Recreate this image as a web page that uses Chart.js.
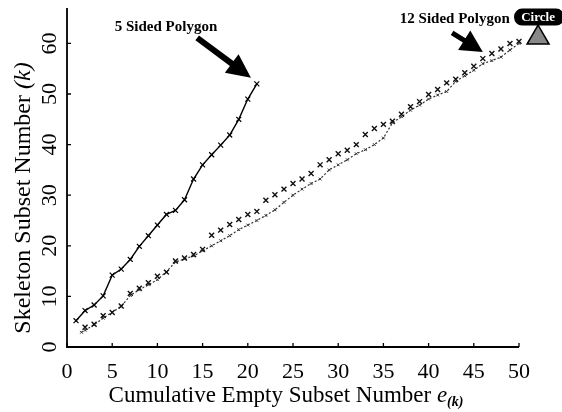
<!DOCTYPE html>
<html><head><meta charset="utf-8">
<script src="https://cdn.jsdelivr.net/npm/chart.js@4/dist/chart.umd.min.js"></script>
<style>html,body{margin:0;padding:0;background:#fff;}canvas{display:block;}</style>
</head><body>
<canvas id="c" width="562" height="412"></canvas>
<script>
// ---- data ----
const xTickValues = [0,5,10,15,20,25,30,35,40,45,50];
const yTickValues = [0,10,20,30,40,50,60];

const pentagonE = [1,2,3,4,5,6,7,8,9,10,11,12,13,14,15,16,17,18,19,20,21];
const pentagonK = [5.2,7.2,8.3,10.1,14.2,15.4,17.3,19.9,22,24.1,26.2,27,29.1,33.2,36,38,39.9,41.9,45,49,52];

const dodecagonE = [2,3,4,5,6,7,8,9,10,11,12,13,14,15,16,17,18,19,20,21,22,23,24,25,26,27,28,29,30,31,32,33,34,35,36,37,38,39,40,41,42,43,44,45,46,47,48,49,50];
const dodecagonK = [3.9,4.5,6.2,6.8,8.1,10.6,11.6,12.7,14,14.8,17,17.6,18.3,19.3,22.1,23.1,24.2,25.2,26.2,26.8,29,30.1,31.2,32.3,33.2,34.3,36,37,38.2,38.9,40,42,43.2,44,44.6,46,47.5,48.5,49.9,50.9,52.2,52.9,54.2,55.5,57,58,58.9,60,60.4];

const circleE = [1.6,2,3,4,5,6,7,8,9,10,11,12,13,14,15,16,17,18,19,20,21,22,23,24,25,26,27,28,29,30,31,32,33,34,35,36,37,38,39,40,41,42,43,44,45,46,47,48,49,50];
const circleK = [2.9,3.3,4.4,5.7,6.9,8,10.2,11.3,12.3,13.3,14.9,16.8,17.4,18,19,20,21,22,23.2,24.1,25,26,27.1,28.6,30,31.2,32.3,33.2,35,36,37,38.2,39,40,41.3,44.3,45.5,46.8,47.8,49,49.8,50.5,52.5,53.6,54.7,56,56.6,57.3,58.7,60];

const xTitle = 'Cumulative Empty Subset Number ';
const xTitleVar = 'e';
const xTitleSub = '(k)';
const yTitle = 'Skeleton Subset Number ';
const yTitleVar = '(k)';
const label5 = '5 Sided Polygon';
const label12 = '12 Sided Polygon';
const labelCircle = 'Circle';

const toPts = (xs, ys) => xs.map((x, i) => ({x, y: ys[i]}));

const SERIF = '"Liberation Serif", "DejaVu Serif", serif';

function drawRuns(ctx, runs, cx, cy, angle) {
  ctx.save();
  ctx.translate(cx, cy);
  ctx.rotate(angle);
  ctx.textBaseline = 'alphabetic';
  ctx.textAlign = 'left';
  let total = 0;
  runs.forEach(r => { ctx.font = r.font; r.w = ctx.measureText(r.text).width; total += r.w; });
  let x = -total / 2;
  runs.forEach(r => { ctx.font = r.font; ctx.fillText(r.text, x, r.dy || 0); x += r.w; });
  ctx.restore();
}

function arrow(ctx, tx, ty, hx, hy, shaft, headLen, headW) {
  const dx = hx - tx, dy = hy - ty, L = Math.hypot(dx, dy);
  const ux = dx / L, uy = dy / L, nx = -uy, ny = ux;
  const bx = hx - ux * headLen, by = hy - uy * headLen;
  ctx.beginPath();
  ctx.moveTo(tx + nx * shaft / 2, ty + ny * shaft / 2);
  ctx.lineTo(bx + nx * shaft / 2, by + ny * shaft / 2);
  ctx.lineTo(bx + nx * headW / 2, by + ny * headW / 2);
  ctx.lineTo(hx, hy);
  ctx.lineTo(bx - nx * headW / 2, by - ny * headW / 2);
  ctx.lineTo(bx - nx * shaft / 2, by - ny * shaft / 2);
  ctx.lineTo(tx - nx * shaft / 2, ty - ny * shaft / 2);
  ctx.closePath();
  ctx.fill();
}

const decor = {
  id: 'decor',
  afterDraw(chart) {
    const ctx = chart.ctx, xs = chart.scales.x, ys = chart.scales.y, ca = chart.chartArea;
    const X = v => xs.getPixelForValue(v), Y = v => ys.getPixelForValue(v);
    ctx.save();
    ctx.fillStyle = '#000';
    ctx.strokeStyle = '#000';
    // axes
    ctx.lineWidth = 1.8;
    ctx.beginPath();
    ctx.moveTo(ca.left, ca.top);
    ctx.lineTo(ca.left, ca.bottom);
    ctx.lineTo(ca.right, ca.bottom);
    ctx.stroke();
    // inward ticks
    ctx.lineWidth = 1.3;
    ctx.beginPath();
    xTickValues.forEach(v => { const p = X(v); ctx.moveTo(p, ca.bottom); ctx.lineTo(p, ca.bottom - 4); });
    yTickValues.forEach(v => { const p = Y(v); ctx.moveTo(ca.left, p); ctx.lineTo(ca.left + 4, p); });
    ctx.stroke();
    // x tick labels
    ctx.font = '22px ' + SERIF;
    ctx.textAlign = 'center';
    ctx.textBaseline = 'alphabetic';
    xTickValues.forEach(v => ctx.fillText(String(v), X(v), ca.bottom + 31));
    // y tick labels (rotated)
    yTickValues.forEach(v => {
      ctx.save();
      ctx.translate(ca.left - 11, Y(v));
      ctx.rotate(-Math.PI / 2);
      ctx.textAlign = 'center';
      ctx.textBaseline = 'alphabetic';
      ctx.font = '22px ' + SERIF;
      ctx.fillText(String(v), 0, 0);
      ctx.restore();
    });
    // x title
    drawRuns(ctx, [
      {text: xTitle, font: '23px ' + SERIF},
      {text: xTitleVar, font: 'italic 23px ' + SERIF},
      {text: xTitleSub, font: 'italic bold 14px ' + SERIF, dy: 4}
    ], 286, ca.bottom + 55, 0);
    // y title
    drawRuns(ctx, [
      {text: yTitle, font: '24px ' + SERIF},
      {text: yTitleVar, font: 'italic 24px ' + SERIF}
    ], 30, 198, -Math.PI / 2);
    // annotations
    ctx.font = 'bold 15px ' + SERIF;
    ctx.textAlign = 'center';
    ctx.textBaseline = 'middle';
    ctx.fillText(label5, X(10.95), Y(63.2));
    arrow(ctx, X(14.4), Y(61.1), X(20.35), Y(53.2), 6, 24, 23);
    ctx.fillText(label12, X(42.9), Y(64.9));
    arrow(ctx, X(42.6), Y(62.1), X(46.0), Y(58.3), 5, 22, 23);
    // circle callout
    const bx = X(52.0), by = Y(65.2);
    ctx.beginPath();
    ctx.roundRect(bx - 23, by - 8.5, 50, 17, 8);
    ctx.fill();
    ctx.fillStyle = '#fff';
    ctx.font = 'bold 13px ' + SERIF;
    ctx.fillText(labelCircle, bx + 1, by + 0.5);
    ctx.fillStyle = '#888';
    ctx.beginPath();
    ctx.moveTo(bx + 1, by + 8);
    ctx.lineTo(bx + 12, by + 27);
    ctx.lineTo(bx - 10, by + 27);
    ctx.closePath();
    ctx.fill();
    ctx.lineWidth = 1.5;
    ctx.strokeStyle = '#000';
    ctx.stroke();
    ctx.restore();
  }
};

new Chart(document.getElementById('c'), {
  type: 'scatter',
  data: {
    datasets: [
      {
        label: label5,
        data: toPts(pentagonE, pentagonK),
        showLine: true,
        borderColor: '#000',
        backgroundColor: '#000',
        borderWidth: 1.4,
        pointStyle: 'crossRot',
        pointRadius: 3.5,
        pointBorderWidth: 1.2,
        clip: false
      },
      {
        label: label12,
        data: toPts(dodecagonE, dodecagonK),
        showLine: false,
        borderColor: '#111',
        backgroundColor: '#111',
        pointStyle: 'crossRot',
        pointRadius: 3.5,
        pointBorderWidth: 1.4,
        clip: false
      },
      {
        label: labelCircle,
        data: toPts(circleE, circleK),
        showLine: true,
        borderColor: '#333',
        backgroundColor: '#333',
        borderWidth: 1.2,
        borderDash: [2, 2],
        pointStyle: 'crossRot',
        pointRadius: 2,
        pointBorderWidth: 1,
        clip: false
      }
    ]
  },
  options: {
    responsive: false,
    animation: false,
    events: [],
    layout: {padding: {left: 0, right: 43, top: 8, bottom: 0}},
    plugins: {legend: {display: false}, tooltip: {enabled: false}},
    scales: {
      x: {
        type: 'linear', min: 0, max: 50,
        ticks: {display: false, stepSize: 5},
        grid: {display: false},
        border: {display: false},
        afterFit: s => { s.height = 65; }
      },
      y: {
        type: 'linear', min: 0, max: 67,
        ticks: {display: false, stepSize: 10},
        grid: {display: false},
        border: {display: false},
        afterFit: s => { s.width = 67; }
      }
    }
  },
  plugins: [decor]
});
</script>
</body></html>
